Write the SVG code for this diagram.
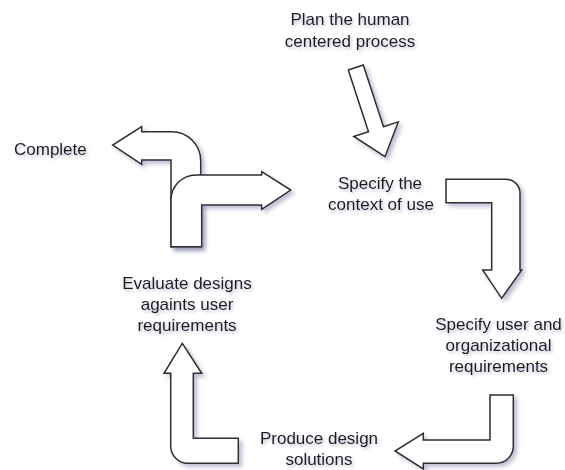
<svg xmlns="http://www.w3.org/2000/svg" width="565" height="470" viewBox="0 0 565 470">
  <defs>
    <filter id="shadow" x="-20%" y="-20%" width="140%" height="140%">
      <feDropShadow dx="3" dy="3" stdDeviation="2" flood-color="#6a6f9a" flood-opacity="0.45"/>
    </filter>
    <filter id="tshadow" x="-10%" y="-30%" width="120%" height="160%">
      <feDropShadow dx="1.5" dy="2" stdDeviation="1.5" flood-color="#6a6f9a" flood-opacity="0.45"/>
    </filter>
    <style>
      .arrow { fill: #ffffff; stroke: #2e2e2e; stroke-width: 1.5; stroke-linejoin: miter; filter: url(#shadow); }
      .label { font-family: "Liberation Sans", Arial, Helvetica, sans-serif; font-size: 17px; fill: #1c1c1c; text-anchor: middle; filter: url(#tshadow); }
    </style>
  </defs>
  <rect width="565" height="470" fill="#ffffff"/>

  <g id="connectors">
    <path id="arrow-plan" class="arrow" d="M348.3,70 L363.3,65 L383.5,126.7 L398.2,121.9 L385,156.7 L353.8,136.5 L368.5,131.7 Z"/>
    <path id="arrow-context" class="arrow" d="M446,179.3 L506,179.3 A14,14 0 0 1 520,193.3 L520,270 L521.7,270 L501.7,298.3 L482.7,270 L491.7,270 L491.7,202.7 L446,202.7 Z"/>
    <path id="arrow-requirements" class="arrow" d="M490,395 L513.3,395 L513.3,446.3 A17,17 0 0 1 496.3,463.3 L423.3,463.3 L423.3,469 L395,451 L423.3,433.3 L423.3,440 L490,440 Z"/>
    <path id="arrow-produce" class="arrow" d="M238.3,438.3 L193.3,438.3 L193.3,373.3 L201.7,373.3 L182.3,343.3 L164,373.3 L170.7,373.3 L170.7,446 A17.3,17.3 0 0 0 188,463.3 L238.3,463.3 Z"/>
    <path id="arrow-complete" class="arrow" d="M171,246.7 L171,160 L141.7,160 L141.7,164.3 L112.7,145 L141.7,126.7 L141.7,131.7 L171.7,131.7 A29,29 0 0 1 200.7,160.7 L200.7,246.7 Z"/>
    <path id="arrow-iterate" class="arrow" d="M171,246.7 L171,200 A25,25 0 0 1 196,175 L261.7,175 L261.7,171.7 L290.7,190 L261.7,209.3 L261.7,205 L201.7,205 L201.7,246.7 Z"/>
  </g>

  <g id="node-plan">
    <text class="label" x="350" y="25">Plan the human</text>
    <text class="label" x="350" y="47">centered process</text>
  </g>
  <g id="node-complete">
    <text class="label" x="14" y="155" style="text-anchor:start">Complete</text>
  </g>
  <g id="node-context">
    <text class="label" x="380" y="189">Specify the</text>
    <text class="label" x="381" y="210">context of use</text>
  </g>
  <g id="node-evaluate">
    <text class="label" x="187" y="289">Evaluate designs</text>
    <text class="label" x="187" y="310">againts user</text>
    <text class="label" x="187" y="331">requirements</text>
  </g>
  <g id="node-requirements">
    <text class="label" x="498.5" y="330">Specify user and</text>
    <text class="label" x="498.5" y="351">organizational</text>
    <text class="label" x="498.5" y="372">requirements</text>
  </g>
  <g id="node-produce">
    <text class="label" x="319" y="444">Produce design</text>
    <text class="label" x="319" y="465">solutions</text>
  </g>
</svg>
